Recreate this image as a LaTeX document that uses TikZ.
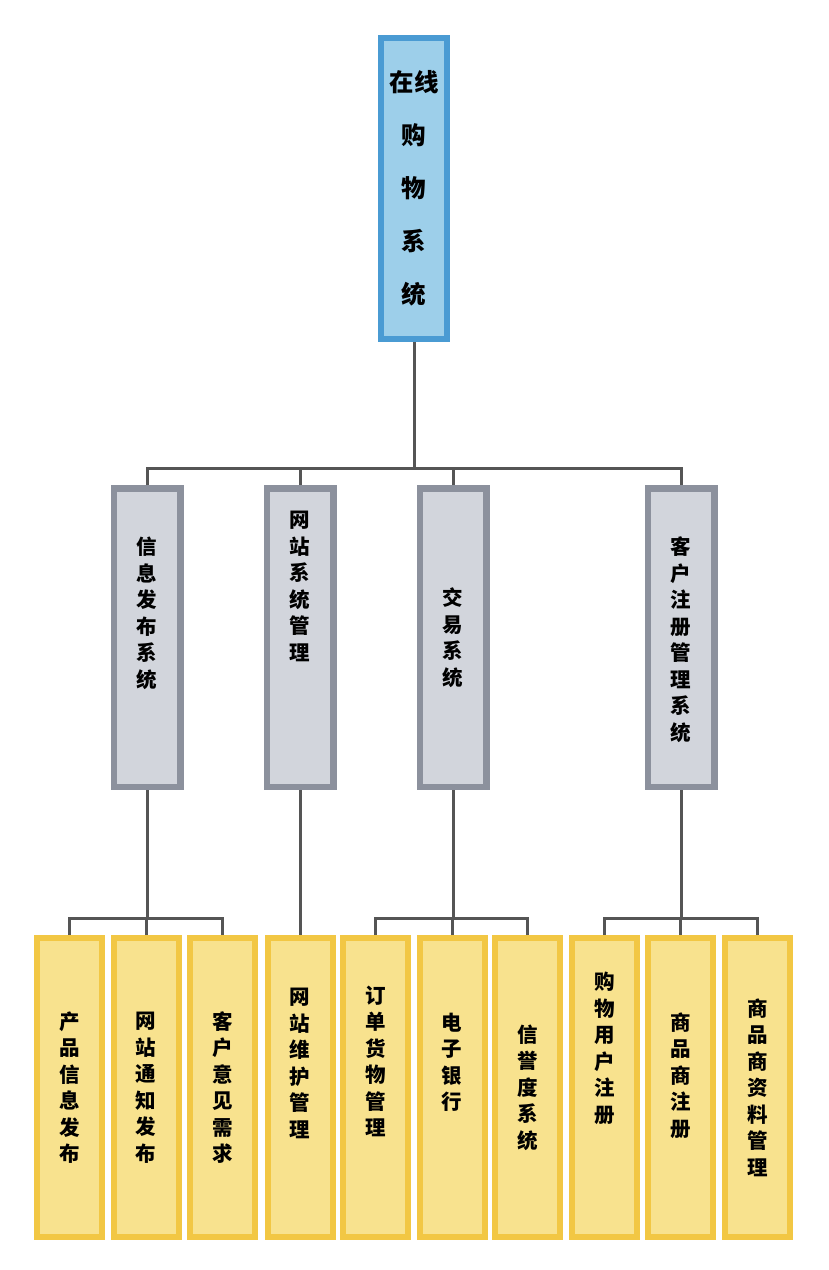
\documentclass[tikz,border=0pt]{standalone}
\usepackage{fontspec}
\newfontfamily\cjk{Noto Sans CJK SC}
\usetikzlibrary{positioning}

\definecolor{blueLine}{HTML}{4A9BD3}
\definecolor{blueFill}{HTML}{9DCFEA}
\definecolor{greyLine}{HTML}{8C919D}
\definecolor{greyFill}{HTML}{D2D5DC}
\definecolor{yellowLine}{HTML}{F2C744}
\definecolor{yellowFill}{HTML}{F8E28E}
\definecolor{linkGrey}{HTML}{555555}

\begin{document}
\begin{tikzpicture}[
    x=1pt, y=-1pt,
    topbox/.style={draw=blueLine, fill=blueFill, line width=6pt, minimum width=66pt, minimum height=301pt, inner sep=0pt},
    greybox/.style={draw=greyLine, fill=greyFill, line width=6.5pt, minimum width=66.5pt, minimum height=298.5pt, inner sep=0pt},
    yellowbox/.style={draw=yellowLine, fill=yellowFill, line width=6pt, minimum width=65pt, minimum height=299pt, inner sep=0pt},
    toptext/.style={align=center, inner sep=0pt, font=\cjk\bfseries\fontsize{24.5}{53}\selectfont},
    boxtext/.style={align=center, inner sep=0pt, font=\cjk\bfseries\fontsize{20.5}{26.5}\selectfont},
    link/.style={draw=linkGrey, line width=3pt},
]
    \useasboundingbox (0,0) rectangle (828,1270);

    % top level
    \node[topbox] (top) at (414,188.5) {};
    \node[toptext] (topt) at (top.center) {在线\\购\\物\\系\\统};

    % second level
    \node[greybox] (g1) at (147,637.5) {};
    \node[greybox] (g2) at (300,637.5) {};
    \node[greybox] (g3) at (453,637.5) {};
    \node[greybox] (g4) at (681,637.5) {};
    \node[boxtext] (g1t) at ([yshift=24pt]g1.center) {信\\息\\发\\布\\系\\统};
    \node[boxtext] (g2t) at ([yshift=51pt]g2.center) {网\\站\\系\\统\\管\\理};
    \node[boxtext] (g3t) at (g3.center) {交\\易\\系\\统};
    \node[boxtext] (g4t) at ([yshift=-2pt]g4.center) {客\\户\\注\\册\\管\\理\\系\\统};

    % third level
    \node[yellowbox] (y1) at (69.5,1087.5) {};
    \node[yellowbox] (y2) at (146,1087.5) {};
    \node[yellowbox] (y3) at (222.5,1087.5) {};
    \node[yellowbox] (y4) at (300,1087.5) {};
    \node[yellowbox] (y5) at (375.5,1087.5) {};
    \node[yellowbox] (y6) at (452,1087.5) {};
    \node[yellowbox] (y7) at (527.5,1087.5) {};
    \node[yellowbox] (y8) at (604.5,1087.5) {};
    \node[yellowbox] (y9) at (680.5,1087.5) {};
    \node[yellowbox] (y10) at (757.5,1087.5) {};
    \node[boxtext] (y1t) at (y1.center) {产\\品\\信\\息\\发\\布};
    \node[boxtext] (y2t) at (y2.center) {网\\站\\通\\知\\发\\布};
    \node[boxtext] (y3t) at (y3.center) {客\\户\\意\\见\\需\\求};
    \node[boxtext] (y4t) at ([yshift=24pt]y4.center) {网\\站\\维\\护\\管\\理};
    \node[boxtext] (y5t) at ([yshift=26pt]y5.center) {订\\单\\货\\物\\管\\理};
    \node[boxtext] (y6t) at ([yshift=25pt]y6.center) {电\\子\\银\\行};
    \node[boxtext] (y7t) at (y7.center) {信\\誉\\度\\系\\统};
    \node[boxtext] (y8t) at ([yshift=39pt]y8.center) {购\\物\\用\\户\\注\\册};
    \node[boxtext] (y9t) at ([yshift=12pt]y9.center) {商\\品\\商\\注\\册};
    \node[boxtext] (y10t) at (y10.center) {商\\品\\商\\资\\料\\管\\理};

    % connectors
    \coordinate (bus1) at (414,468);
    \coordinate (bus2) at (0,918);
    \draw[link] (top.south) -- (top.south |- bus1);
    \draw[link] (g1.north) -- (g1.north |- bus1) -| (g4.north);
    \draw[link] (g2.north) -- (g2.north |- bus1);
    \draw[link] (g3.north) -- (g3.north |- bus1);

    \draw[link] (g1.south) -- (g1.south |- bus2);
    \draw[link] (y1.north) -- (y1.north |- bus2) -| (y3.north);
    \draw[link] (y2.north) -- (y2.north |- bus2);
    \draw[link] (g2.south) -- (y4.north);
    \draw[link] (g3.south) -- (g3.south |- bus2);
    \draw[link] (y5.north) -- (y5.north |- bus2) -| (y7.north);
    \draw[link] (y6.north) -- (y6.north |- bus2);
    \draw[link] (g4.south) -- (g4.south |- bus2);
    \draw[link] (y8.north) -- (y8.north |- bus2) -| (y10.north);
    \draw[link] (y9.north) -- (y9.north |- bus2);
\end{tikzpicture}
\end{document}
